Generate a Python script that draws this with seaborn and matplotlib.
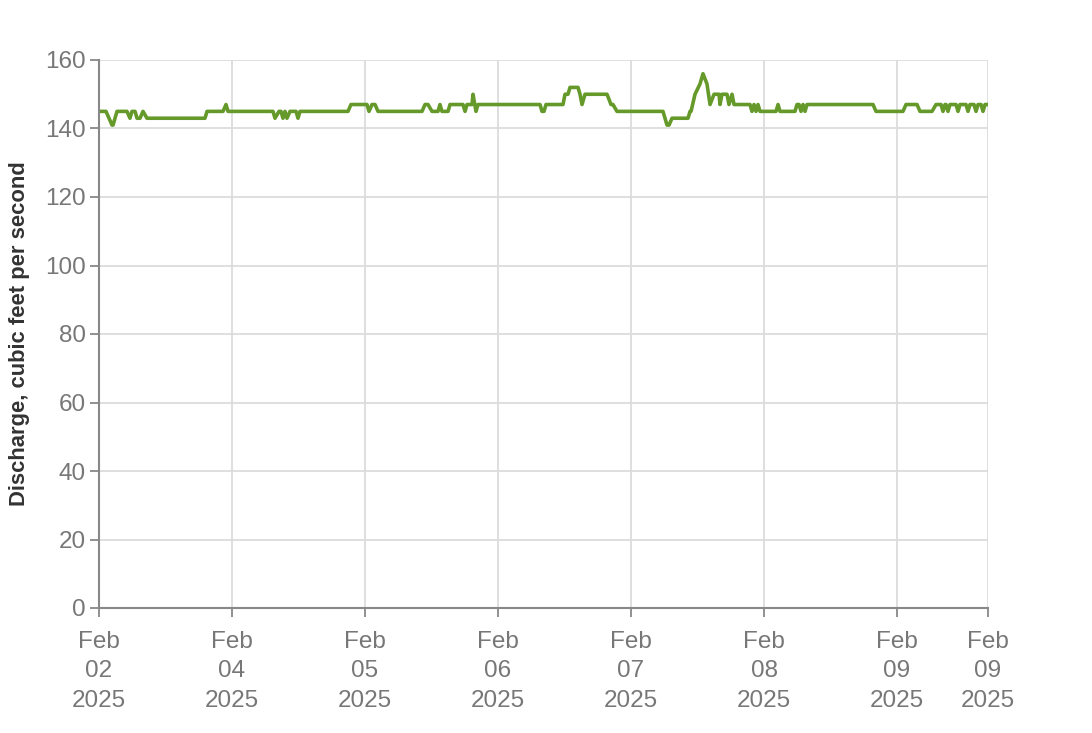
import matplotlib
matplotlib.use("Agg")
import matplotlib.pyplot as plt
import seaborn as sns
import pandas as pd

# Plateaus of the discharge series: start hour, end hour, value (cfs)
seg_start = [0.0, 2.35, 3.25, 5.59, 5.95, 6.86, 7.94, 8.66, 19.49, 22.92, 23.28, 31.76, 32.48, 33.20,
             33.56, 33.92, 34.47, 35.91, 36.27, 45.47, 48.72, 49.26, 50.35, 58.83, 60.09, 61.53, 61.89,
             63.34, 66.05, 66.41, 67.49, 68.03, 68.39, 79.94, 80.66, 84.09, 84.99, 86.80, 87.16, 87.70,
             92.39, 93.47, 102.50, 103.40, 106.65, 107.55, 108.45, 108.99, 109.71, 110.26, 110.98, 112.06,
             112.42, 113.68, 114.23, 114.59, 117.83, 118.20, 118.56, 118.92, 119.28, 122.53, 122.89,
             125.95, 126.68, 127.04, 127.40, 127.76, 140.21, 145.62, 148.15, 151.04, 152.30, 152.66,
             153.20, 153.56, 155.01, 155.37, 156.81, 157.17, 158.26, 158.62, 159.52, 159.88]
seg_end = [1.26, 2.53, 5.05, 5.59, 6.50, 7.40, 7.94, 19.13, 22.38, 22.92, 31.40, 31.76, 32.84, 33.20,
           33.56, 33.92, 35.55, 35.91, 44.93, 48.36, 48.72, 49.81, 58.29, 59.37, 61.17, 61.53, 62.98,
           65.68, 66.05, 67.31, 67.49, 68.03, 79.58, 80.30, 83.73, 84.63, 86.44, 86.80, 87.16, 91.67,
           92.75, 101.77, 102.86, 106.29, 106.83, 107.55, 108.45, 108.99, 109.71, 110.26, 111.88, 112.06,
           113.32, 113.68, 114.23, 117.47, 117.83, 118.20, 118.56, 118.92, 122.17, 122.53, 125.59,
           126.32, 126.68, 127.04, 127.40, 139.67, 145.08, 147.61, 150.32, 151.94, 152.30, 152.84,
           153.20, 154.65, 155.01, 156.45, 156.81, 157.89, 158.26, 159.16, 159.52, 160.42]
seg_value = [145, 141, 145, 143, 145, 143, 145, 143, 145, 147, 145, 143, 145, 143,
             145, 143, 145, 143, 145, 147, 145, 147, 145, 147, 145, 147, 145,
             147, 145, 147, 150, 145, 147, 145, 147, 150, 152, 150, 147, 150,
             147, 145, 141, 143, 145, 150, 153, 156, 153, 147, 150, 147,
             150, 147, 150, 147, 145, 147, 145, 147, 145, 147, 145,
             147, 145, 147, 145, 147, 145, 147, 145, 147, 145, 147,
             145, 147, 145, 147, 145, 147, 145, 147, 145, 147]

tick_hours = [0, 24, 48, 72, 96, 120, 144, 160.42]
tick_labels = ["Feb\n02\n2025", "Feb\n04\n2025", "Feb\n05\n2025", "Feb\n06\n2025",
               "Feb\n07\n2025", "Feb\n08\n2025", "Feb\n09\n2025", "Feb\n09\n2025"]
y_ticks = [0, 20, 40, 60, 80, 100, 120, 140, 160]

hours, values = [], []
for s, e, v in zip(seg_start, seg_end, seg_value):
    hours.append(s); values.append(v)
    if e > s:
        hours.append(e); values.append(v)
df = pd.DataFrame({"hour": hours, "discharge": values})

sns.set_style("white")
plt.rcParams["font.family"] = ["Liberation Sans", "DejaVu Sans"]

fig = plt.figure(figsize=(10.92, 7.33), dpi=100)
ax = fig.add_axes([99 / 1092, 1 - 608 / 733, (988 - 99) / 1092, (608 - 60) / 733])

sns.lineplot(data=df, x="hour", y="discharge", ax=ax, color="#659a2b", linewidth=2.6,
             sort=False, estimator=None)

ax.set_xlim(0, 160.42)
ax.set_ylim(0, 160)
ax.set_xticks(tick_hours)
ax.set_xticklabels(tick_labels, linespacing=1.43)
ax.set_yticks(y_ticks)
ax.grid(True, color="#dcdcdc", linewidth=1.3)
ax.set_axisbelow(True)
for side in ["top", "right"]:
    ax.spines[side].set_visible(False)
for side in ["left", "bottom"]:
    ax.spines[side].set_color("#888888")
    ax.spines[side].set_linewidth(1.5)
ax.tick_params(axis="both", direction="out", length=6.5, width=1.3, color="#888888",
               labelcolor="#777777", labelsize=17.5, left=True, bottom=True)
ax.tick_params(axis="y", pad=3)
ax.tick_params(axis="x", pad=10)
ax.set_xlabel("")
ax.set_ylabel("Discharge, cubic feet per second", fontsize=15.8, fontweight="bold",
              color="#333333", labelpad=11)

fig.savefig("out.png", dpi=100)
